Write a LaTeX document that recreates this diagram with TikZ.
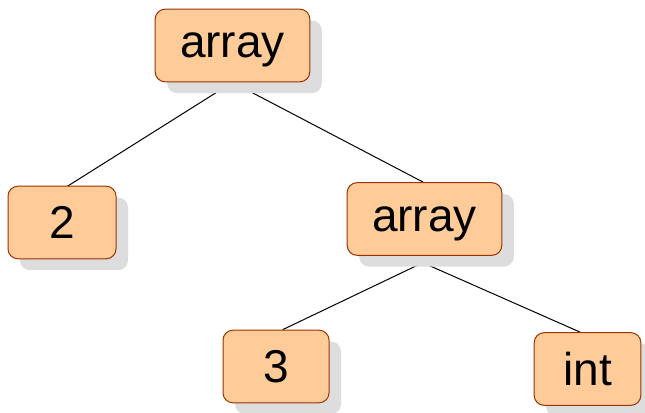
\documentclass[tikz,border=0pt]{standalone}
\usepackage{fontspec}
\setmainfont{Liberation Sans}
\usetikzlibrary{shadows,backgrounds}

\tikzset{every picture/.style={line width=0.75pt}}
\tikzset{
  treebox/.style={draw={rgb, 255:red, 153; green, 51; blue, 0 }, fill={rgb, 255:red, 255; green, 204; blue, 153 }, rounded corners=7.5pt, inner sep=0pt, text depth=0pt, minimum height=54.5pt, font=\fontsize{34.5}{40}\selectfont, drop shadow={shadow xshift=9pt, shadow yshift=-8.5pt, fill={rgb, 255:red, 221; green, 221; blue, 221 }, opacity=1}},
  treeline/.style={draw={rgb, 255:red, 0; green, 0; blue, 0 }, line width=0.75pt}
}

\begin{document}
\begin{tikzpicture}[x=0.75pt,y=0.75pt,yscale=-1,xscale=1]
        \useasboundingbox (0,0) rectangle (645,413);

        %Rounded Rect
        \node (top) at (232.5,45.5) [treebox, minimum width=116pt] {array};
        %Rounded Rect
        \node (two) at (62,222.5) [treebox, minimum width=81pt] {2};
        %Rounded Rect
        \node (arr) at (424.5,219) [treebox, minimum width=116pt] {array};
        %Rounded Rect
        \node (three) at (276,366.5) [treebox, minimum width=79.5pt] {3};
        %Rounded Rect
        \node (int) at (587.5,369) [treebox, minimum width=80pt] {int};

        \begin{pgfonlayer}{background}
        %Straight Lines
        \draw [treeline] (top.south) -- ([yshift=3pt]two.north) ;
        %Straight Lines
        \draw [treeline] (top.south) -- ([xshift=-1pt]arr.north) ;
        %Straight Lines
        \draw [treeline] ([xshift=9.5pt]arr.south) -- ([xshift=5pt]three.north) ;
        %Straight Lines
        \draw [treeline] ([xshift=-13pt]arr.south) -- ([xshift=-5.5pt]int.north) ;
        \end{pgfonlayer}
\end{tikzpicture}
\end{document}
